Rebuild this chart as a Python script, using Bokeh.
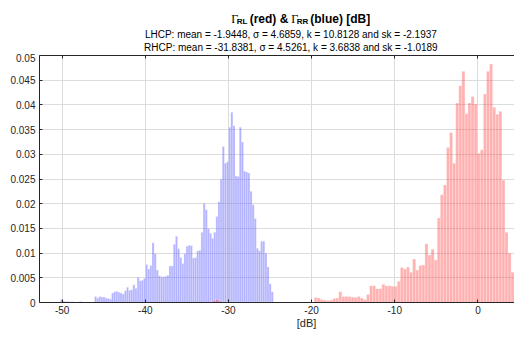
import numpy as np
from bokeh.plotting import figure
from bokeh.layouts import column
from bokeh.models import (FixedTicker, NumeralTickFormatter, LinearAxis,
                          CustomJSTickFormatter, Range1d)
from bokeh.core.properties import value
from bokeh.embed import file_html
from bokeh.resources import INLINE

# ---------------- data (probability per bin) ----------------
blue_bin_start = -50.2
blue_bin_width = 0.256
blue_vals = [
    0.0006, 0.0003, 0.0002, 0.0002, 0.0001, 0.0002, 0.0001, 0.0001, 0.0001, 0.0002,
    0.0001, 0.0000, 0.0001, 0.0000, 0.0000, 0.0001, 0.0012, 0.0009, 0.0012, 0.0011,
    0.0011, 0.0009, 0.0008, 0.0007, 0.0019, 0.0022, 0.0023, 0.0021, 0.0019, 0.0017,
    0.0024, 0.0031, 0.0025, 0.0026, 0.0036, 0.0029, 0.0051, 0.0044, 0.0045, 0.0049,
    0.0077, 0.0068, 0.0075, 0.0121, 0.0099, 0.0066, 0.0054, 0.0052, 0.0052, 0.0053,
    0.0055, 0.0074, 0.0074, 0.0118, 0.0134, 0.0109, 0.0091, 0.0079, 0.0099, 0.0114,
    0.0116, 0.0115, 0.0090, 0.0091, 0.0104, 0.0106, 0.0142, 0.0201, 0.0188, 0.0150,
    0.0140, 0.0130, 0.0142, 0.0174, 0.0204, 0.0250, 0.0316, 0.0282, 0.0285, 0.0355,
    0.0385, 0.0358, 0.0256, 0.0255, 0.0355, 0.0325, 0.0266, 0.0264, 0.0262, 0.0225,
    0.0198, 0.0170, 0.0110, 0.0105, 0.0124, 0.0124, 0.0100, 0.0072, 0.0038, 0.0022,
]

red_bin_start = -32.64
red_bin_width = 0.37
red_vals = [
    0.0000, 0.0001, 0.0004, 0.0006, 0.0003, 0.0001, 0.0001, 0.0001, 0.0001, 0.0001,
    0.0001, 0.0001, 0.0001, 0.0001, 0.0001, 0.0001, 0.0001, 0.0001, 0.0001, 0.0001,
    0.0001, 0.0001, 0.0001, 0.0001, 0.0001, 0.0001, 0.0001, 0.0001, 0.0001, 0.0001,
    0.0001, 0.0001, 0.0001, 0.0001, 0.0001, 0.0010, 0.0009, 0.0006, 0.0005, 0.0004,
    0.0005, 0.0008, 0.0009, 0.0022, 0.0012, 0.0012, 0.0012, 0.0011, 0.0010, 0.0012,
    0.0009, 0.0006, 0.0016, 0.0034, 0.0034, 0.0028, 0.0028, 0.0037, 0.0034, 0.0034,
    0.0033, 0.0033, 0.0043, 0.0071, 0.0068, 0.0072, 0.0061, 0.0088, 0.0066, 0.0075,
    0.0076, 0.0119, 0.0096, 0.0108, 0.0086, 0.0171, 0.0218, 0.0238, 0.0314, 0.0344,
    0.0282, 0.0404, 0.0439, 0.0468, 0.0382, 0.0404, 0.0417, 0.0402, 0.0302, 0.0309,
    0.0422, 0.0468, 0.0483, 0.0395, 0.0381, 0.0387, 0.0248, 0.0142, 0.0100, 0.0061,
]

x_ticks = [-50, -40, -30, -20, -10, 0]
y_ticks = [0, 0.005, 0.01, 0.015, 0.02, 0.025, 0.03, 0.035, 0.04, 0.045, 0.05]

title_parts = ["\u0393", "RL", "(red) &", "\u0393", "RR", "(blue) [dB]"]
subtitle_lines = [
    "LHCP: mean = -1.9448, \u03c3 = 4.6859, k = 10.8128 and sk = -2.1937",
    "RHCP: mean = -31.8381, \u03c3 = 4.5261, k = 3.6838 and sk = -1.0189",
]
x_label = "[dB]"

# ---------------- layout ----------------
W = 514
TITLE_H, MAIN_H, XLAB_H = 53, 263, 13
LB, TB, BB = 39, 2, 14
X0, X1 = -52.72, 4.40
Y0, Y1 = 0.0, 0.05

FONT = "Liberation Sans"
AX_COL = "#262626"


def blank_fig(h):
    f = figure(width=W, height=h, x_range=Range1d(0, W), y_range=Range1d(h, 0),
               output_backend="svg", toolbar_location=None,
               min_border=0, outline_line_color=None)
    f.axis.visible = False
    f.grid.visible = False
    return f


# ---- title figure ----
tf = blank_fig(TITLE_H)
piece_x = [207.4, 213.4, 227.4, 272.4, 278.4, 293.0]
for txt, px in zip(title_parts, piece_x):
    is_sub = txt in ("RL", "RR")
    is_gamma = txt == "\u0393"
    tf.text(x=[px], y=[21.0 if is_sub else 18.0], text=[txt],
            text_font=value("Liberation Serif" if is_gamma else FONT),
            text_font_size="8px" if is_sub else "12px",
            text_font_style="normal" if is_gamma else "bold",
            text_color="black", text_align="left", text_baseline="alphabetic")

tf.text(x=[272, 272], y=[33.5, 47], text=subtitle_lines, text_font=value(FONT),
        text_font_size="10px", text_color="black", text_align="center",
        text_baseline="middle")

# ---- main figure ----
p = figure(width=W, height=MAIN_H, x_range=Range1d(X0, X1), y_range=Range1d(Y0, Y1),
           output_backend="svg", toolbar_location=None,
           min_border_left=LB, min_border_right=0, min_border_top=TB,
           min_border_bottom=BB, outline_line_color=None)

b_left = blue_bin_start + blue_bin_width * np.arange(len(blue_vals))
r_left = red_bin_start + red_bin_width * np.arange(len(red_vals))
p.quad(left=b_left, right=b_left + blue_bin_width, bottom=0, top=blue_vals,
       fill_color="blue", fill_alpha=0.3, line_color="white", line_alpha=0.55,
       line_width=0.5)
p.quad(left=r_left, right=r_left + red_bin_width, bottom=0, top=red_vals,
       fill_color="red", fill_alpha=0.3, line_color="white", line_alpha=0.55,
       line_width=0.5)

for ax in (p.xaxis[0], p.yaxis[0]):
    ax.axis_line_color = AX_COL
    ax.major_tick_line_color = AX_COL
    ax.major_tick_in = 3
    ax.major_tick_out = 0
    ax.minor_tick_line_color = None
    ax.major_label_text_font = FONT
    ax.major_label_text_font_size = "10px"
    ax.major_label_text_color = AX_COL
p.xaxis.ticker = FixedTicker(ticks=x_ticks)
p.xaxis.formatter = CustomJSTickFormatter(code="return tick.toString()")
p.yaxis.ticker = FixedTicker(ticks=y_ticks)
p.yaxis.formatter = NumeralTickFormatter(format="0.[000]")
p.xaxis.major_label_standoff = 3
p.yaxis.major_label_standoff = 4

top_ax = LinearAxis(ticker=FixedTicker(ticks=x_ticks),
                    formatter=CustomJSTickFormatter(code="return ''"),
                    axis_line_color=AX_COL, major_tick_line_color=AX_COL,
                    major_tick_in=3, major_tick_out=0, minor_tick_line_color=None,
                    major_label_standoff=0, major_label_text_font_size="0px")
p.add_layout(top_ax, "above")

p.xgrid.ticker = FixedTicker(ticks=x_ticks)
p.ygrid.ticker = FixedTicker(ticks=y_ticks)
p.xgrid.grid_line_color = "#DCDCDC"
p.ygrid.grid_line_color = "#DCDCDC"

# ---- x-axis label figure ----
xf = blank_fig(XLAB_H)
xf.text(x=[289], y=[6.5], text=[x_label], text_font=value(FONT),
        text_font_size="11px", text_color=AX_COL, text_align="center",
        text_baseline="middle")

layout = column(tf, p, xf, spacing=0)
open("out.html", "w").write(file_html(layout, INLINE))
